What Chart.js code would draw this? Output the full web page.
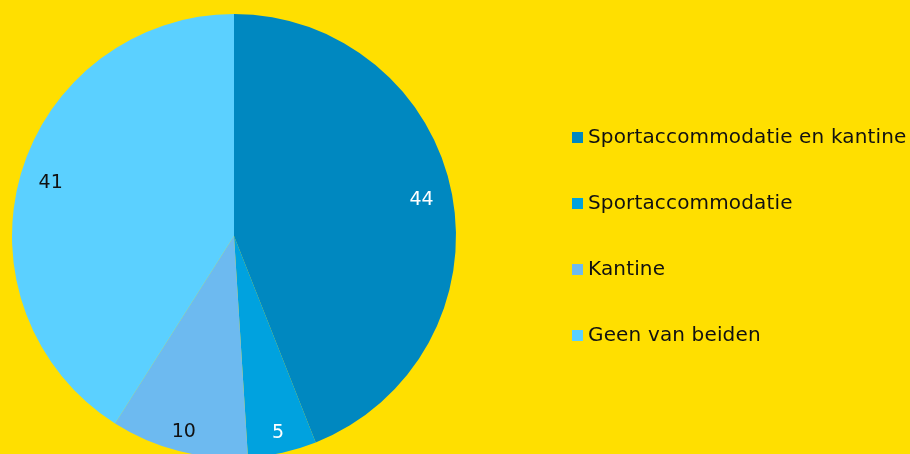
<!DOCTYPE html>
<html><head><meta charset="utf-8">
<script src="https://cdn.jsdelivr.net/npm/chart.js@4"></script>
<style>
html,body{margin:0;padding:0;background:#FFDF00;overflow:hidden;width:910px;height:454px;}
#wrap{position:absolute;left:0;top:0;width:910px;height:480px;}
#legend{position:absolute;left:572px;top:124px;font-family:"DejaVu Sans",sans-serif;font-size:20px;letter-spacing:0.15px;color:#111;}
#legend div{height:66px;display:flex;align-items:flex-start;white-space:nowrap;}
#legend span.box{display:inline-block;width:11px;height:11px;margin-right:5px;margin-top:8px;flex:none;}
</style></head><body>
<div id="wrap"><canvas id="c" width="910" height="480"></canvas></div>
<div id="legend"></div>
<script>
const categories = ["Sportaccommodatie en kantine", "Sportaccommodatie", "Kantine", "Geen van beiden"];
const values = [44, 5, 10, 41];
const colors = ["#0088C0", "#00A2DF", "#6DBAF0", "#5BD0FF"];
const labelColors = ["#ffffff", "#ffffff", "#111111", "#111111"];

const lg = document.getElementById('legend');
categories.forEach((c,i)=>{
  const d=document.createElement('div');
  const b=document.createElement('span'); b.className='box'; b.style.background=colors[i];
  d.appendChild(b); d.appendChild(document.createTextNode(c)); lg.appendChild(d);
});

const labelPlugin = {
  id:'sliceLabels',
  afterDatasetsDraw(chart){
    const ctx=chart.ctx; const meta=chart.getDatasetMeta(0);
    ctx.save();
    ctx.font='19px "DejaVu Sans", sans-serif';
    ctx.textAlign='center'; ctx.textBaseline='middle';
    meta.data.forEach((arc,i)=>{
      const p=arc.getProps(['x','y','startAngle','endAngle','outerRadius'],true);
      const a=(p.startAngle+p.endAngle)/2;
      const small=(p.endAngle-p.startAngle)<Math.PI*0.3;
      const r=p.outerRadius*(small?0.91:0.86);
      ctx.fillStyle=labelColors[i];
      ctx.fillText(String(values[i]), p.x+Math.cos(a)*r, p.y+Math.sin(a)*r);
    });
    ctx.restore();
  }
};

new Chart(document.getElementById('c'),{
  type:'pie',
  data:{labels:categories,datasets:[{data:values,backgroundColor:colors,borderWidth:0}]},
  options:{
    responsive:false,animation:false,
    radius:222,
    layout:{padding:{left:12,top:14,right:454,bottom:22}},
    plugins:{legend:{display:false},tooltip:{enabled:false}}
  },
  plugins:[labelPlugin]
});
</script>
</body></html>
